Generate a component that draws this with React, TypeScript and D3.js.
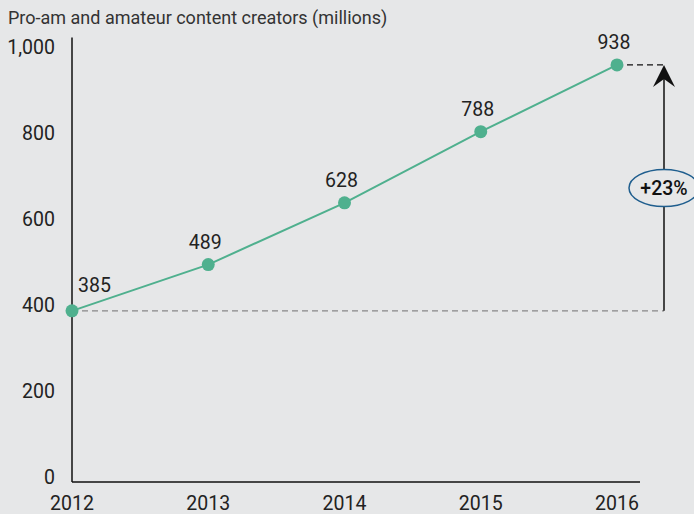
import React from "react";
import * as d3 from "d3";

const years = ["2012", "2013", "2014", "2015", "2016"];
const creators = [385, 489, 628, 788, 938];
const yTicks = [0, 200, 400, 600, 800, 1000];
const title = "Pro-am and amateur content creators (millions)";
const growthLabel = "+23%";

const W = 694;
const H = 514;
const BG = "#e6e7e8";
const GREEN = "#4fb08e";
const FONT = "Roboto, 'Noto Sans', sans-serif";

export default function App() {
  const x = d3.scalePoint<string>().domain(years).range([72, 617]);
  const y = d3.scaleLinear().domain([0, 1000]).range([482, 37.4]);
  const yLabel = d3.scaleLinear().domain([0, 1000]).range([477, 46.5]);
  const line = d3
    .line<number>()
    .x((_, i) => x(years[i]) as number)
    .y((d) => y(d));

  const arrowX = 664;
  const first = creators[0];
  const last = creators[creators.length - 1];
  const yFirst = y(first);
  const yLast = y(last);
  const ellY = 188;

  return (
    <svg
      width={W}
      height={H}
      style={{ position: "absolute", left: 0, top: 0, background: BG }}
      fontFamily={FONT}
    >
      <rect x={0} y={0} width={W} height={H} fill={BG} />
      <text x={8} y={24} fontSize={18} fill="#333">
        {title}
      </text>

      {/* y tick labels */}
      {yTicks.map((t) => (
        <text
          key={t}
          x={55}
          y={yLabel(t)}
          dy="0.36em"
          textAnchor="end"
          fontSize={19.5}
          fill="#222"
        >
          {d3.format(",")(t)}
        </text>
      ))}

      {/* x tick labels */}
      {years.map((yr) => (
        <text
          key={yr}
          x={x(yr)}
          y={510}
          textAnchor="middle"
          fontSize={19.5}
          fill="#222"
        >
          {yr}
        </text>
      ))}

      {/* axes */}
      <line x1={72} x2={72} y1={y(1000)} y2={y(0)} stroke="#111" strokeWidth={1.5} />
      <line x1={72} x2={640} y1={y(0)} y2={y(0)} stroke="#111" strokeWidth={1.5} />

      {/* reference dashed lines */}
      <line
        x1={72}
        x2={arrowX}
        y1={yFirst}
        y2={yFirst}
        stroke="#888"
        strokeWidth={1.2}
        strokeDasharray="6,4"
      />
      <line
        x1={x(years[years.length - 1]) as number}
        x2={arrowX}
        y1={yLast}
        y2={yLast}
        stroke="#111"
        strokeWidth={1.2}
        strokeDasharray="6,4"
      />

      {/* arrow */}
      <line x1={arrowX} x2={arrowX} y1={yFirst} y2={yLast + 6} stroke="#111" strokeWidth={1.5} />
      <path
        d={`M${arrowX},${yLast} L${arrowX + 11},${yLast + 22} L${arrowX},${yLast + 14} L${arrowX - 11},${yLast + 22} Z`}
        fill="#111"
      />
      <ellipse cx={arrowX} cy={ellY} rx={35} ry={18.5} fill={BG} stroke="#1f5e8e" strokeWidth={1.5} />
      <text x={arrowX} y={ellY} dy="0.36em" textAnchor="middle" fontSize={19.5} fontWeight={500} fill="#111">
        {growthLabel}
      </text>

      {/* line */}
      <path d={line(creators) || ""} fill="none" stroke={GREEN} strokeWidth={2} />
      {creators.map((v, i) => (
        <circle key={i} cx={x(years[i])} cy={y(v)} r={6.5} fill={GREEN} />
      ))}
      {creators.map((v, i) => (
        <text
          key={"l" + i}
          x={i === 0 ? 78 : (x(years[i]) as number) - 3}
          y={y(v) - (i === 0 ? 19 : 16)}
          textAnchor={i === 0 ? "start" : "middle"}
          fontSize={19.5}
          fill="#222"
        >
          {v}
        </text>
      ))}
    </svg>
  );
}
